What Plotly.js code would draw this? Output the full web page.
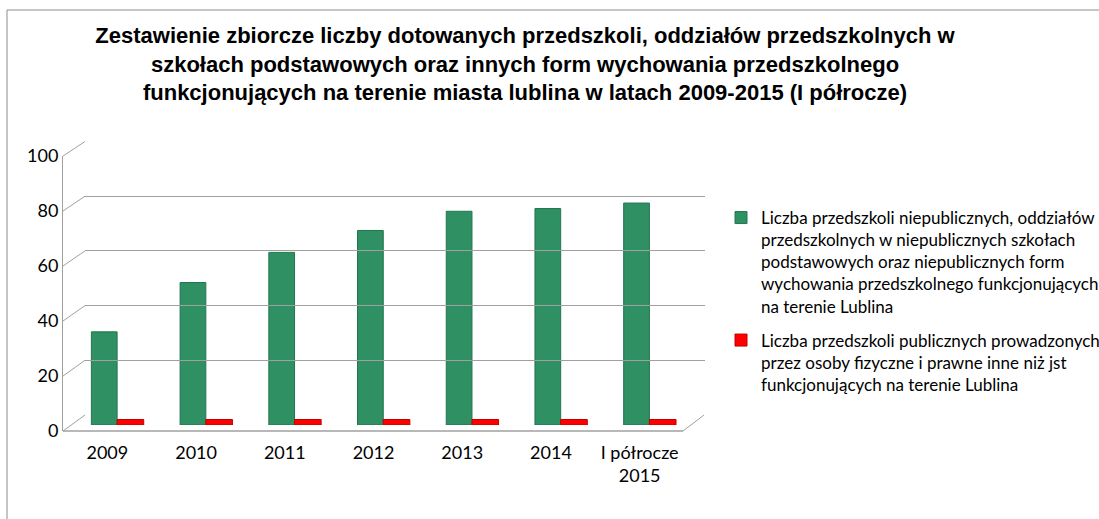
<!DOCTYPE html>
<html>
<head>
<meta charset="utf-8">
<script src="https://cdn.plot.ly/plotly-3.0.1.min.js"></script>
<style>html,body{margin:0;padding:0;background:#fff;}#chart{width:1099px;height:519px;}</style>
</head>
<body>
<div id="chart"></div>
<script>
// ---- data ----
const categories = ['2009', '2010', '2011', '2012', '2013', '2014', 'I półrocze 2015'];
const tickLabels = ['2009', '2010', '2011', '2012', '2013', '2014', 'I półrocze<br>2015'];
const nonPublic = [34, 52, 63, 71, 78, 79, 81];
const publicOther = [2, 2, 2, 2, 2, 2, 2];
const yTicks = [0, 20, 40, 60, 80, 100];
const seriesNames = [
  'Liczba przedszkoli niepublicznych, oddziałów<br>przedszkolnych w niepublicznych szkołach<br>podstawowych oraz niepublicznych form<br>wychowania przedszkolnego funkcjonujących<br>na terenie Lublina',
  'Liczba przedszkoli publicznych prowadzonych<br>przez osoby fizyczne i prawne inne niż jst<br>funkcjonujących na terenie Lublina'
];
const titleText = 'Zestawienie zbiorcze liczby dotowanych przedszkoli, oddziałów przedszkolnych w<br>szkołach podstawowych oraz innych form wychowania przedszkolnego<br>funkcjonujących na terenie miasta lublina w latach 2009-2015 (I półrocze)';

// ---- geometry helpers (pixels -> paper) ----
const W = 1099, H = 519;
const px = x => x / W;
const py = y => 1 - y / H;
const gridColor = '#a0a0a0';
// front wall: 0 at y=431, 100 at y=156 ; back wall: 0 at 415, 100 at 141.5
const yFront = v => 431 - 2.75 * v;
const yBack = v => 415 - 2.735 * v;

const traces = [
  {
    type: 'bar', name: seriesNames[0], x: categories, y: nonPublic,
    width: 0.29, offset: -0.18,
    marker: {color: '#2E9063', line: {color: '#23764f', width: 1}},
    legendgroup: 'a', hoverinfo: 'x+y'
  },
  {
    type: 'bar', name: seriesNames[1], x: categories, y: publicOther,
    width: 0.3, offset: 0.11,
    marker: {color: '#FF0000', line: {color: '#C00000', width: 1}},
    legendgroup: 'b', hoverinfo: 'x+y'
  },
  // empty helper traces so that the back-wall and front-axis subplots are drawn
  {type: 'scatter', mode: 'markers', x: [null], y: [null], xaxis: 'x2', yaxis: 'y3',
   showlegend: false, hoverinfo: 'skip'},
  {type: 'scatter', mode: 'markers', x: [null], y: [null], xaxis: 'x3', yaxis: 'y2',
   showlegend: false, hoverinfo: 'skip'}
];

const shapes = [];
// diagonal connectors on the left side wall
yTicks.forEach(v => {
  shapes.push({type: 'line', xref: 'paper', yref: 'paper',
    x0: px(63), y0: py(yFront(v)), x1: px(85), y1: py(yBack(v)),
    line: {color: gridColor, width: 1}});
});
// floor: front edge and right edge
shapes.push({type: 'line', xref: 'paper', yref: 'paper',
  x0: px(63), y0: py(yFront(0)), x1: px(683), y1: py(yFront(0)),
  line: {color: gridColor, width: 1.5}});
shapes.push({type: 'line', xref: 'paper', yref: 'paper',
  x0: px(683), y0: py(yFront(0)), x1: px(704), y1: py(yBack(0)),
  line: {color: gridColor, width: 1}});
// chart border
shapes.push({type: 'path', xref: 'paper', yref: 'paper',
  path: `M ${px(7)} ${py(530)} L ${px(7)} ${py(10)} L ${px(1110)} ${py(10)}`,
  line: {color: '#8c8c8c', width: 1}});

const layout = {
  width: W, height: H, autosize: false,
  margin: {l: 0, r: 0, t: 0, b: 0, autoexpand: false},
  paper_bgcolor: '#ffffff', plot_bgcolor: 'rgba(0,0,0,0)',
  showlegend: true,
  barmode: 'overlay',
  title: {
    text: titleText,
    font: {family: 'Liberation Sans, Arial, sans-serif', size: 22, color: '#000', weight: 'bold'},
    x: px(525), xanchor: 'center', xref: 'paper',
    y: py(43), yanchor: 'top', yref: 'container'
  },
  xaxis: {
    domain: [px(63), px(684)],
    type: 'category', categoryorder: 'array', categoryarray: categories,
    range: [-0.5, 6.5],
    tickmode: 'array', tickvals: categories, ticktext: tickLabels,
    tickfont: {family: 'Lato, Carlito, sans-serif', size: 18, color: '#000'},
    ticks: '', showgrid: false, zeroline: false, showline: false,
    ticklabelstandoff: 15,
    fixedrange: true
  },
  yaxis: {
    domain: [py(425), py(425 - 274)],
    range: [0, 100], showgrid: false, zeroline: false, showline: false,
    showticklabels: false, ticks: '', fixedrange: true
  },
  // front axis carrying the tick labels
  xaxis3: {
    domain: [px(63), px(684)], range: [0, 1], anchor: 'y2',
    showgrid: false, zeroline: false, showline: false,
    showticklabels: false, ticks: '', fixedrange: true
  },
  yaxis2: {
    domain: [py(yFront(0)), py(yFront(100))],
    range: [0, 100], anchor: 'x3', side: 'left',
    tickmode: 'array', tickvals: yTicks,
    tickfont: {family: 'Lato, Carlito, sans-serif', size: 18, color: '#000'},
    ticks: '', showgrid: false, zeroline: false,
    showline: true, linecolor: gridColor, linewidth: 1,
    fixedrange: true
  },
  // back wall gridlines
  xaxis2: {
    domain: [px(85), px(705)], range: [0, 1], anchor: 'y3',
    showgrid: false, zeroline: false, showline: false,
    showticklabels: false, ticks: '', fixedrange: true
  },
  yaxis3: {
    domain: [py(yBack(0)), py(yBack(100))],
    range: [0, 100], anchor: 'x2',
    tickmode: 'array', tickvals: yTicks,
    showgrid: true, gridcolor: gridColor, gridwidth: 1,
    zeroline: false, showline: false, showticklabels: false, ticks: '',
    fixedrange: true
  },
  legend: {
    x: px(721), xanchor: 'left', xref: 'paper',
    y: py(200), yanchor: 'top', yref: 'paper',
    font: {family: 'Lato, Carlito, sans-serif', size: 17, color: '#000'},
    traceorder: 'grouped', tracegroupgap: 9, valign: 'top',
    bgcolor: 'rgba(0,0,0,0)', borderwidth: 0
  },
  shapes: shapes
};

Plotly.newPlot('chart', traces, layout, {displayModeBar: false, staticPlot: true});
</script>
</body>
</html>
